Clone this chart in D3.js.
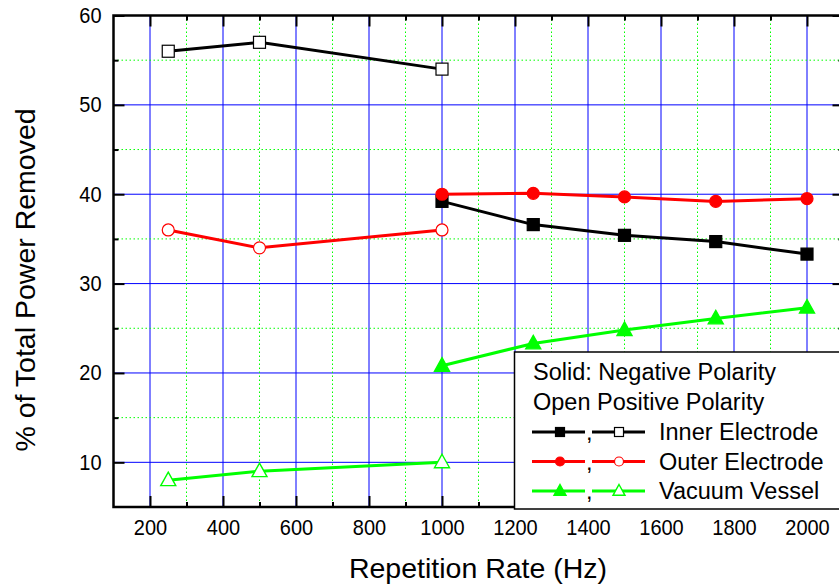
<!DOCTYPE html>
<html>
<head>
<meta charset="utf-8">
<script src="https://cdn.jsdelivr.net/npm/d3@7"></script>
<style>
  body { margin: 0; background: #fff; }
  svg { font-family: Arial, "Liberation Sans", sans-serif; }
</style>
</head>
<body>
<div id="chart"></div>
<script>
// data
const repNeg = [1000, 1250, 1500, 1750, 2000];   // Hz, negative polarity (solid)
const repPos = [250, 500, 1000];                  // Hz, positive polarity (open)

const innerNeg = [39.2, 36.6, 35.4, 34.7, 33.3];
const innerPos = [56, 57, 54];
const outerNeg = [40.0, 40.1, 39.7, 39.2, 39.5];
const outerPos = [36, 34, 36];
const vesselNeg = [20.8, 23.3, 24.8, 26.1, 27.3];
const vesselPos = [8, 9, 10];

const xMajor = [200, 400, 600, 800, 1000, 1200, 1400, 1600, 1800, 2000];
const xMinor = [300, 500, 700, 900, 1100, 1300, 1500, 1700, 1900];
const yMajor = [10, 20, 30, 40, 50, 60];
const yMinor = [15, 25, 35, 45, 55];

const legendTitle = ["Solid: Negative Polarity", "Open Positive Polarity"];
const seriesNames = ["Inner Electrode", "Outer Electrode", "Vacuum Vessel"];

// set the dimensions
const W = 839, H = 588;
const plot = {left: 113.5, right: 843.5, top: 15.5, bottom: 507};

const svg = d3.select("#chart")
  .append("svg")
    .attr("width", W)
    .attr("height", H);

const x = d3.scaleLinear().domain([100, 2100]).range([plot.left, plot.right]);
const y = d3.scaleLinear().domain([5, 60]).range([plot.bottom, plot.top]);

// grid: blue solid at majors, green dotted at minors
const grid = svg.append("g");
grid.selectAll(".gxM").data(xMajor).join("line")
  .attr("x1", d => x(d)).attr("x2", d => x(d))
  .attr("y1", plot.top).attr("y2", plot.bottom)
  .attr("stroke", "#0000ff").attr("stroke-width", 1);
grid.selectAll(".gyM").data(yMajor.filter(d => d < 60)).join("line")
  .attr("y1", d => y(d)).attr("y2", d => y(d))
  .attr("x1", plot.left).attr("x2", plot.right)
  .attr("stroke", "#0000ff").attr("stroke-width", 1);
grid.selectAll(".gxm").data(xMinor).join("line")
  .attr("x1", d => x(d)).attr("x2", d => x(d))
  .attr("y1", plot.top).attr("y2", plot.bottom)
  .attr("stroke", "#00ff00").attr("stroke-width", 1)
  .attr("stroke-dasharray", "1.5,2.5");
grid.selectAll(".gym").data(yMinor).join("line")
  .attr("y1", d => y(d)).attr("y2", d => y(d))
  .attr("x1", plot.left).attr("x2", plot.right)
  .attr("stroke", "#00ff00").attr("stroke-width", 1)
  .attr("stroke-dasharray", "1.5,2.5");

// series
const series = [
  {xs: repNeg, ys: innerNeg, color: "#000000", shape: "square", filled: true},
  {xs: repPos, ys: innerPos, color: "#000000", shape: "square", filled: false},
  {xs: repNeg, ys: outerNeg, color: "#ff0000", shape: "circle", filled: true},
  {xs: repPos, ys: outerPos, color: "#ff0000", shape: "circle", filled: false},
  {xs: repNeg, ys: vesselNeg, color: "#00ff00", shape: "triangle", filled: true},
  {xs: repPos, ys: vesselPos, color: "#00ff00", shape: "triangle", filled: false}
];

const line = d3.line().x(d => x(d[0])).y(d => y(d[1]));

function drawMarker(g, shape, color, filled, s) {
  const fill = filled ? color : "#fff";
  if (shape === "square") {
    g.append("rect").attr("x", -s / 2).attr("y", -s / 2).attr("width", s).attr("height", s)
      .attr("fill", fill).attr("stroke", filled ? color : "#000").attr("stroke-width", 1.2);
  } else if (shape === "circle") {
    g.append("circle").attr("r", s / 2)
      .attr("fill", fill).attr("stroke", color).attr("stroke-width", 1.2);
  } else {
    const h = s * 0.9;
    g.append("path")
      .attr("d", `M0,${-h * 0.6}L${s / 2},${h * 0.4}L${-s / 2},${h * 0.4}Z`)
      .attr("fill", fill).attr("stroke", color).attr("stroke-width", 1.4);
  }
}

const dataG = svg.append("g");
series.forEach(s => {
  const pts = s.xs.map((v, i) => [v, s.ys[i]]);
  dataG.append("path").datum(pts)
    .attr("d", line)
    .attr("fill", "none")
    .attr("stroke", s.color)
    .attr("stroke-width", 3);
});
series.forEach(s => {
  s.xs.forEach((v, i) => {
    const g = dataG.append("g").attr("transform", `translate(${x(v)},${y(s.ys[i])})`);
    drawMarker(g, s.shape, s.color, s.filled, s.shape === "triangle" ? 15 : 12);
  });
});

// axes with inward ticks
function axisG(gen, tx, ty) {
  const g = svg.append("g").attr("transform", `translate(${tx},${ty})`).call(gen);
  g.select(".domain").remove();
  g.selectAll(".tick line").attr("stroke", "#000").attr("stroke-width", 2);
  g.selectAll("text").attr("font-size", 20).attr("fill", "#000").attr("font-family", null)
    .attr("transform", "scale(1,1.08)");
  return g;
}
const fmt = d3.format("d");
axisG(d3.axisBottom(x).tickValues(xMajor).tickSize(-11).tickPadding(12).tickFormat(fmt), 0, plot.bottom);
axisG(d3.axisBottom(x).tickValues(xMinor).tickSize(-5).tickFormat(""), 0, plot.bottom);
axisG(d3.axisTop(x).tickValues(xMajor).tickSize(-11).tickFormat(""), 0, plot.top);
axisG(d3.axisTop(x).tickValues(xMinor).tickSize(-5).tickFormat(""), 0, plot.top);
axisG(d3.axisLeft(y).tickValues(yMajor).tickSize(-11).tickPadding(12).tickFormat(fmt), plot.left, 0);
axisG(d3.axisLeft(y).tickValues(yMinor).tickSize(-5).tickFormat(""), plot.left, 0);
axisG(d3.axisRight(y).tickValues(yMajor).tickSize(-11).tickFormat(""), plot.right, 0);
axisG(d3.axisRight(y).tickValues(yMinor).tickSize(-5).tickFormat(""), plot.right, 0);

// frame
svg.append("rect")
  .attr("x", plot.left).attr("y", plot.top)
  .attr("width", plot.right - plot.left).attr("height", plot.bottom - plot.top)
  .attr("fill", "none").attr("stroke", "#000").attr("stroke-width", 2.5);

// axis titles
svg.append("text")
  .attr("x", 478).attr("y", 578)
  .attr("text-anchor", "middle")
  .attr("font-size", 28.5)
  .text("Repetition Rate (Hz)");
svg.append("text")
  .attr("transform", "translate(35,280) rotate(-90)")
  .attr("text-anchor", "middle")
  .attr("font-size", 28.5)
  .text("% of Total Power Removed");

// legend
const leg = svg.append("g");
leg.append("rect")
  .attr("x", 514.5).attr("y", 352).attr("width", 340).attr("height", 157)
  .attr("fill", "#fff").attr("stroke", "#000").attr("stroke-width", 1.5);
legendTitle.forEach((t, i) => {
  leg.append("text").attr("x", 533).attr("y", 380 + i * 29.5)
    .attr("font-size", 23.5).text(t);
});
seriesNames.forEach((name, i) => {
  const yy = 432 + i * 29.5;
  const solid = series[i * 2], open = series[i * 2 + 1];
  leg.append("line").attr("x1", 532).attr("x2", 585).attr("y1", yy).attr("y2", yy)
    .attr("stroke", solid.color).attr("stroke-width", 3);
  leg.append("line").attr("x1", 592).attr("x2", 645).attr("y1", yy).attr("y2", yy)
    .attr("stroke", open.color).attr("stroke-width", 3);
  drawMarker(leg.append("g").attr("transform", `translate(560,${yy})`), solid.shape, solid.color, true,
    solid.shape === "triangle" ? 12 : 9);
  drawMarker(leg.append("g").attr("transform", `translate(619,${yy})`), open.shape, open.color, false,
    open.shape === "triangle" ? 12 : 9);
  leg.append("text").attr("x", 586).attr("y", yy + 8).attr("font-size", 23.5).text(",");
  leg.append("text").attr("x", 659).attr("y", yy + 8).attr("font-size", 23.5).text(name);
});
</script>
</body>
</html>
